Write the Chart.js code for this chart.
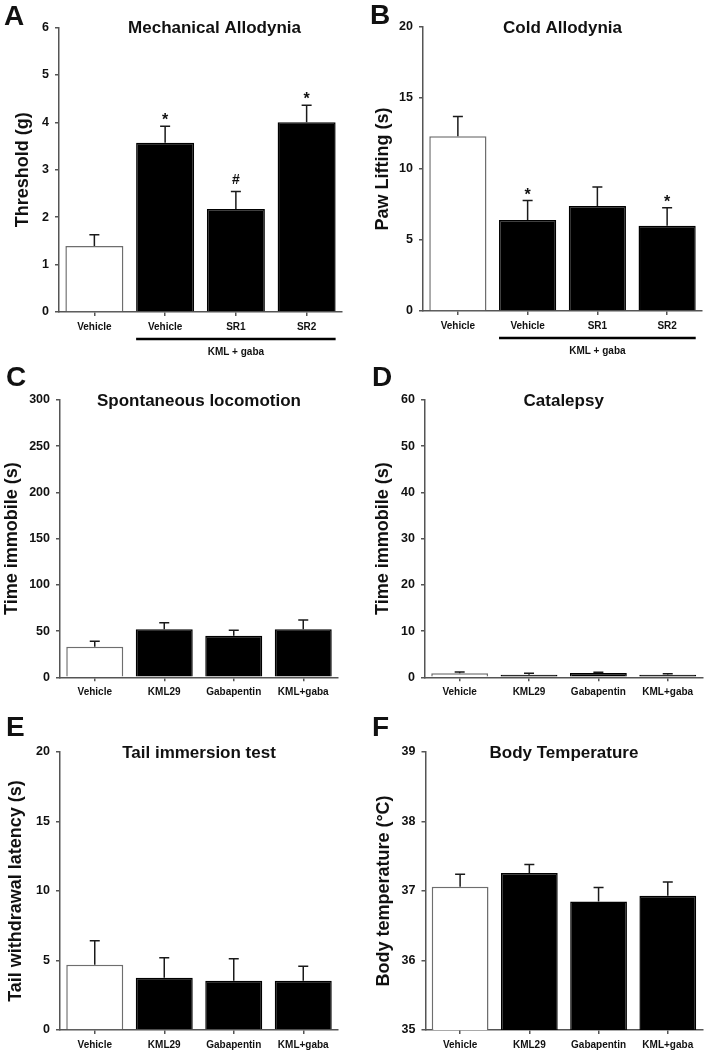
<!DOCTYPE html>
<html>
<head>
<meta charset="utf-8">
<script src="https://cdn.jsdelivr.net/npm/chart.js@4/dist/chart.umd.min.js"></script>
<style>
  body { margin: 0; background: #fff; }
  #fig { position: relative; width: 709px; height: 1053px; overflow: hidden; }
  #fig canvas { position: absolute; }
</style>
</head>
<body>
<div id="fig"></div>
<script>
const painGroups = ['Vehicle', 'Vehicle', 'SR1', 'SR2'];
const sideGroups = ['Vehicle', 'KML29', 'Gabapentin', 'KML+gaba'];

const mechMean = [1.39, 3.57, 2.17, 4.0];
const mechSem = [0.24, 0.35, 0.37, 0.36];
const mechMarks = ['', '*', '#', '*'];
const mechTicks = [0, 1, 2, 3, 4, 5, 6];

const coldMean = [12.3, 6.4, 7.4, 6.0];
const coldSem = [1.4, 1.38, 1.33, 1.27];
const coldMarks = ['', '*', '', '*'];
const coldTicks = [0, 5, 10, 15, 20];

const locoMean = [33, 52, 45, 52];
const locoSem = [6, 7, 6, 10];
const locoTicks = [0, 50, 100, 150, 200, 250, 300];

const catMean = [0.87, 0.56, 0.93, 0.56];
const catSem = [0.28, 0.3, 0.15, 0.22];
const catTicks = [0, 10, 20, 30, 40, 50, 60];

const tailMean = [4.7, 3.76, 3.55, 3.55];
const tailSem = [1.72, 1.44, 1.58, 1.03];
const tailTicks = [0, 5, 10, 15, 20];

const tempMean = [37.06, 37.26, 36.85, 36.93];
const tempSem = [0.18, 0.12, 0.2, 0.2];
const tempTicks = [35, 36, 37, 38, 39];

const FONT = '"Liberation Sans", Arial, sans-serif';
const AXIS = '#555';
Chart.defaults.font.family = FONT;
Chart.defaults.color = '#111';

const panels = [
    { letter: 'A', left: 0, top: 0, width: 354, height: 362, area: [59, 27.5, 342, 312], letterY: 25, letterX: 4,
      title: 'Mechanical Allodynia', titleShift: 14, yLabel: 'Threshold (g)', yTitleX: 23,
      labels: painGroups, mean: mechMean, sem: mechSem, marks: mechMarks, ticks: mechTicks, bracket: 'KML + gaba' },
    { letter: 'B', left: 355, top: 0, width: 354, height: 362, area: [68, 27, 347, 311], letterY: 24, letterX: 15,
      title: 'Cold Allodynia', titleShift: 0, yLabel: 'Paw Lifting (s)', yTitleX: 28,
      labels: painGroups, mean: coldMean, sem: coldSem, marks: coldMarks, ticks: coldTicks, bracket: 'KML + gaba' },
    { letter: 'C', left: 0, top: 345, width: 354, height: 355, area: [60, 55, 338, 332.3], letterY: 41, letterX: 6,
      title: 'Spontaneous locomotion', titleShift: 0, yLabel: 'Time immobile (s)', yTitleX: 12,
      labels: sideGroups, mean: locoMean, sem: locoSem, ticks: locoTicks },
    { letter: 'D', left: 355, top: 345, width: 354, height: 355, area: [70, 55, 347.4, 332.3], letterY: 41, letterX: 17,
      title: 'Catalepsy', titleShift: 0, yLabel: 'Time immobile (s)', yTitleX: 28.5,
      labels: sideGroups, mean: catMean, sem: catSem, ticks: catTicks },
    { letter: 'E', left: 0, top: 695, width: 354, height: 358, area: [60, 57, 338, 335], letterY: 41, letterX: 6,
      title: 'Tail immersion test', titleShift: 0, yLabel: 'Tail withdrawal latency (s)', yTitleX: 16.5,
      labels: sideGroups, mean: tailMean, sem: tailSem, ticks: tailTicks },
    { letter: 'F', left: 355, top: 695, width: 354, height: 358, area: [70.5, 57, 347.4, 335], letterY: 41, letterX: 17,
      title: 'Body Temperature', titleShift: 0, yLabel: 'Body temperature (\u00B0C)', yTitleX: 29,
      labels: sideGroups, mean: tempMean, sem: tempSem, ticks: tempTicks }
];

const extras = {
    id: 'extras',
    afterDatasetsDraw(chart, args, opts) {
        const { ctx, chartArea, scales: { y } } = chart;
        const p = opts.panel;
        const bars = chart.getDatasetMeta(0).data;
        ctx.save();
        ctx.strokeStyle = '#1a1a1a';
        ctx.lineWidth = 1.5;
        ctx.fillStyle = '#111';
        ctx.textAlign = 'center';
        ctx.textBaseline = 'alphabetic';
        bars.forEach((bar, i) => {
            const top = y.getPixelForValue(p.mean[i] + p.sem[i]);
            ctx.beginPath();
            ctx.moveTo(bar.x, bar.y);
            ctx.lineTo(bar.x, top);
            ctx.moveTo(bar.x - 5, top);
            ctx.lineTo(bar.x + 5, top);
            ctx.stroke();
            const mark = p.marks && p.marks[i];
            if (mark) {
                ctx.font = 'bold ' + (mark === '#' ? 14 : 16) + 'px ' + FONT;
                ctx.fillText(mark, bar.x, top - (mark === '#' ? 8 : 1));
            }
        });
        if (p.bracket) {
            const a = bars[1], b = bars[bars.length - 1];
            const by = chartArea.bottom + 27;
            ctx.strokeStyle = '#000';
            ctx.lineWidth = 2.5;
            ctx.beginPath();
            ctx.moveTo(a.x - a.width / 2, by);
            ctx.lineTo(b.x + b.width / 2, by);
            ctx.stroke();
            ctx.font = 'bold 10px ' + FONT;
            ctx.textBaseline = 'middle';
            ctx.fillText(p.bracket, (a.x - a.width / 2 + b.x + b.width / 2) / 2, by + 13);
        }
        ctx.textBaseline = 'middle';
        ctx.font = 'bold 17px ' + FONT;
        ctx.fillText(p.title, (chartArea.left + chartArea.right) / 2 + p.titleShift, chartArea.top + 1);
        ctx.textAlign = 'left';
        ctx.textBaseline = 'alphabetic';
        ctx.font = 'bold 28px ' + FONT;
        ctx.fillText(p.letter, p.letterX, p.letterY);
        ctx.restore();
    }
};

function drawPanel(p) {
    const canvas = document.createElement('canvas');
    canvas.width = p.width;
    canvas.height = p.height;
    canvas.style.left = p.left + 'px';
    canvas.style.top = p.top + 'px';
    document.getElementById('fig').appendChild(canvas);
    const [aLeft, aTop, aRight, aBottom] = p.area;
    const yFont = { size: 18, weight: 'bold', lineHeight: 1.2 };
    return new Chart(canvas.getContext('2d'), {
        type: 'bar',
        data: {
            labels: p.labels,
            datasets: [{
                data: p.mean,
                backgroundColor: p.mean.map((v, i) => i === 0 ? '#fff' : '#000'),
                borderColor: p.mean.map((v, i) => i === 0 ? '#6e6e6e' : '#000'),
                borderWidth: 1.5,
                barPercentage: 0.82,
                categoryPercentage: 1
            }]
        },
        options: {
            responsive: false,
            animation: false,
            devicePixelRatio: 1,
            layout: { autoPadding: false, padding: { left: 0, top: aTop, right: p.width - aRight, bottom: 0 } },
            plugins: { legend: { display: false }, tooltip: { enabled: false }, extras: { panel: p } },
            scales: {
                x: {
                    offset: true,
                    afterFit: s => { s.height = p.height - aBottom; },
                    border: { color: AXIS, width: 1.5 },
                    grid: { offset: false, drawOnChartArea: false, color: AXIS, lineWidth: 1.5, tickLength: 4 },
                    ticks: { autoSkip: false, maxRotation: 0, padding: 5, color: '#111', font: { size: 10, weight: 'bold' } }
                },
                y: {
                    min: p.ticks[0],
                    max: p.ticks[p.ticks.length - 1],
                    afterFit: s => { s.width = aLeft; },
                    afterBuildTicks: s => { s.ticks = p.ticks.map(v => ({ value: v })); },
                    border: { color: AXIS, width: 1.5 },
                    grid: { drawOnChartArea: false, color: AXIS, lineWidth: 1.5, tickLength: 4 },
                    ticks: { padding: 6, color: '#111', font: { size: 12.5, weight: 'bold' } },
                    title: { display: true, text: p.yLabel, color: '#111', font: yFont,
                             padding: { top: p.yTitleX - yFont.size * yFont.lineHeight / 2, bottom: 0 } }
                }
            }
        },
        plugins: [extras]
    });
}

panels.forEach(drawPanel);
</script>
</body>
</html>
